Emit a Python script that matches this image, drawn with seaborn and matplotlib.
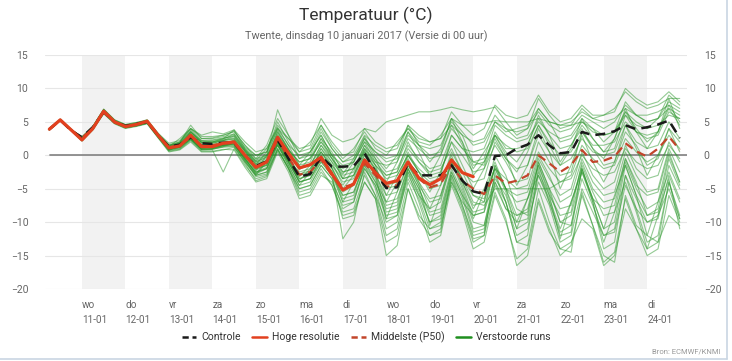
import matplotlib
matplotlib.use("Agg")
import matplotlib.pyplot as plt
from matplotlib.lines import Line2D
import pandas as pd
import seaborn as sns

# ---- data (6-hourly from 10-01 06 UTC) ----
start = "2017-01-10 06:00"

controle = [3.9, 5.3, 3.7,
            2.7, 4.2, 6.5, 5.0,   4.4, 4.7, 5.0, 3.0,   1.3, 1.6, 2.7, 1.8,
            1.7, 1.9, 1.9, 0.0,   -1.6, -0.9, 2.3, -0.5,   -3.2, -2.8, -0.2, -1.7,
            -1.7, -1.6, 0.3, -2.5,   -4.9, -4.8, -1.2, -3.0,   -3.0, -3.0, -1.5, -3.8,
            -5.4, -5.8, -0.1, 0.0,   1.0, 1.6, 3.0, 1.5,   0.3, 0.5, 3.5, 3.0,
            3.2, 3.6, 4.5, 3.9,   4.2, 4.6, 5.2, 2.6]

hoge_resolutie = [3.9, 5.3, 3.8,
                  2.3, 4.0, 6.6, 5.0,   4.3, 4.6, 5.1, 3.0,   1.1, 1.4, 3.0, 1.3,
                  1.3, 1.8, 2.0, 0.0,   -1.8, -1.0, 2.7, 0.3,   -1.9, -1.4, -0.3, -2.8,
                  -5.2, -4.3, -0.7, -2.6,   -4.2, -3.8, -1.0, -3.4,   -4.4, -3.5, -0.7, -2.6,
                  -3.2]

middelste = [3.9, 5.2, 3.8,
             2.6, 4.1, 6.4, 4.9,   4.3, 4.6, 5.0, 3.0,   1.2, 1.5, 2.7, 1.5,
             1.5, 1.8, 1.8, 0.0,   -1.7, -1.0, 2.3, -0.3,   -2.9, -2.5, -0.6, -3.0,
             -4.8, -4.3, -1.2, -3.0,   -4.7, -4.5, -1.3, -3.5,   -4.8, -4.3, -1.5, -3.8,
             -5.0, -5.8, -3.0, -4.2,   -3.8, -3.0, 0.0, -1.2,   -2.5, -1.5, 0.8, -1.0,
             -0.8, -0.2, 1.8, 0.6,   -0.2, 1.0, 2.8, 0.8]

verstoorde_runs = [
    [3.9, 5.4, 3.9, 2.6, 4.3, 6.8, 5.2, 4.5, 4.8, 5.3, 3.3, 1.6, 2.0, 4.0, 2.8, 2.8, 3.0, 3.5, 1.5,
     0.0, 0.5, 4.5, 2.5, 1.0, 1.5, 5.5, 3.0, 2.0, 2.5, 4.0, 3.5, 5.0, 5.5, 6.0, 6.5, 6.5, 6.8, 7.2, 6.8,
     6.5, 6.8, 7.2, 5.0, 3.0, 4.0, 8.5, 6.0, 4.0, 4.5, 7.0, 5.5, 6.0, 7.0, 9.5, 8.0, 7.0, 7.5, 8.5, 8.5],
    [3.8, 5.2, 3.7, 2.2, 3.8, 6.3, 4.8, 4.1, 4.4, 4.8, 2.7, 0.8, 1.2, 3.5, 2.0, 2.0, 2.5, 3.8, 1.0,
     -0.8, 0.0, 6.8, 3.0, -0.5, 0.5, 4.0, 1.0, -1.0, 0.0, 3.0, 1.5, 0.5, 1.0, 4.5, 3.0, 2.0, 2.5, 6.5, 4.5,
     3.0, 4.0, 7.5, 6.0, 5.5, 6.0, 9.0, 6.5, 5.0, 5.5, 7.5, 6.0, 6.0, 6.5, 10.0, 8.5, 7.5, 8.0, 9.5, 8.0],
    [3.9, 5.3, 3.8, 2.5, 4.0, 6.6, 5.1, 4.4, 4.7, 5.1, 3.1, 1.2, 1.6, 3.2, 1.6, 1.8, 2.2, 2.5, 0.5,
     -1.2, -0.5, 3.5, 0.8, -1.0, -0.5, 2.0, 0.0, -2.0, -1.0, 2.0, 0.5, -1.0, -0.5, 3.0, 1.5, 0.0, 0.5, 5.5, 3.5,
     1.5, 2.0, 5.0, 4.0, 3.5, 4.0, 6.5, 4.5, 3.5, 4.0, 6.0, 5.0, 4.0, 5.0, 7.5, 6.0, 5.0, 5.5, 8.0, 7.0],
    [3.9, 5.3, 3.8, 2.8, 4.3, 6.9, 5.3, 4.6, 4.9, 5.2, 3.2, 1.5, 1.8, 3.5, 2.2, 2.3, 2.6, 2.8, 0.8,
     -1.0, -0.2, 3.0, 0.5, -2.0, -1.5, 1.0, -1.0, -3.0, -2.5, 1.5, -0.5, -2.5, -2.0, 1.5, -0.5, -2.0, -1.5, 3.0, 1.0,
     -1.0, -0.5, 4.5, 3.0, 2.0, 2.5, 5.0, 3.5, 2.5, 3.0, 5.5, 4.0, 3.0, 3.5, 6.0, 4.5, 4.0, 4.5, 6.0, 5.5],
    [3.8, 5.2, 3.7, 2.2, 3.9, 6.4, 4.9, 4.2, 4.5, 4.9, 2.8, 0.9, 1.2, 2.5, 1.0, 1.0, 1.5, 2.0, -0.5,
     -2.5, -1.8, 2.0, -0.5, -3.5, -3.0, 0.0, -2.0, -5.5, -4.5, -0.5, -3.0, -6.0, -5.5, -1.5, -4.0, -6.5, -6.0, -0.5, -3.5,
     -6.0, -6.5, -2.0, -3.5, -5.0, -4.5, 0.5, -2.0, -4.0, -3.0, 1.5, -0.5, -2.0, -1.5, 2.5, 0.5, -1.0, 0.0, 3.0, 1.0],
    [3.9, 5.4, 3.9, 2.4, 4.1, 6.7, 5.1, 4.3, 4.6, 5.0, 2.9, 1.0, 1.3, 2.8, 1.2, 1.2, 1.5, 1.7, -0.8,
     -3.0, -2.5, 1.5, -1.5, -4.5, -4.0, -1.0, -3.0, -7.0, -6.5, -2.0, -4.5, -9.0, -8.5, -3.0, -6.0, -10.0, -9.0, -2.5, -6.0,
     -11.0, -10.5, -4.0, -7.0, -12.0, -11.0, -3.0, -7.0, -11.5, -10.5, -3.5, -7.5, -12.0, -11.0, -3.0, -6.5, -10.0, -9.0, -1.5, -5.0],
    [3.8, 5.3, 3.8, 2.3, 4.0, 6.5, 5.0, 4.3, 4.5, 4.9, 2.8, 0.7, 1.0, 2.3, 0.8, 0.8, -2.5, 1.0, -1.5,
     -3.5, -3.0, 1.0, -2.0, -5.5, -5.0, -2.0, -4.5, -8.5, -8.0, -3.0, -6.0, -12.0, -11.0, -4.0, -8.0, -13.0, -12.0, -4.5, -8.5,
     -14.0, -13.0, -6.0, -10.0, -15.5, -14.0, -6.5, -11.0, -15.0, -13.5, -6.0, -10.5, -16.0, -14.5, -6.5, -11.0, -15.0, -14.0, -6.0, -10.0],
    [4.0, 5.4, 3.9, 2.7, 4.2, 6.8, 5.2, 4.5, 4.7, 5.1, 3.0, 1.3, 1.6, 3.0, 1.6, 1.6, 1.9, 2.2, 0.0,
     -2.0, -1.5, 2.5, -0.5, -4.0, -3.5, -0.5, -2.5, -12.5, -10.0, -2.5, -6.0, -10.0, -9.0, -2.0, -6.0, -8.0, -7.0, -1.0, -4.5,
     -9.0, -8.5, -1.5, -5.0, -7.0, -6.5, -0.5, -3.5, -6.0, -5.0, 0.5, -3.0, -5.0, -4.0, 1.5, -2.0, -3.5, -3.0, 2.0, -1.0],
    [3.9, 5.3, 3.8, 2.6, 4.2, 6.7, 5.1, 4.4, 4.7, 5.1, 3.1, 1.4, 1.7, 3.5, 2.0, 2.2, 2.5, 3.0, 1.0,
     -0.5, 0.0, 4.0, 1.5, 0.0, 0.5, 3.0, 0.0, -1.5, -1.0, 2.0, -1.0, -3.0, -2.5, 2.0, -1.0, -2.5, -2.0, 1.0, -2.5,
     -6.0, -7.0, 0.0, -3.0, -8.0, -9.0, -1.0, -5.0, -10.0, -10.5, -2.0, -6.5, -11.0, -10.0, -1.5, -6.0, -9.0, -8.0, -0.5, -4.5],
    [3.9, 5.3, 3.8, 2.4, 4.0, 6.5, 4.9, 4.2, 4.5, 4.9, 2.9, 1.0, 1.3, 2.6, 1.2, 1.4, 1.6, 1.8, -0.3,
     -2.2, -1.5, 2.2, -0.8, -2.5, -2.0, 0.5, -1.5, -4.0, -3.5, 0.5, -2.0, -4.5, -4.0, 0.5, -2.5, -5.0, -4.5, 0.5, -2.5,
     -4.0, -3.5, 2.0, -0.5, -2.0, -1.5, 3.0, 0.5, -1.5, -0.5, 2.5, 0.5, 0.0, 0.5, 4.5, 2.0, 1.0, 1.5, 5.0, 2.5],
    [3.8, 5.2, 3.7, 2.1, 3.8, 6.2, 4.7, 4.0, 4.3, 4.7, 2.6, 0.5, 0.8, 2.0, 0.5, 0.5, 0.8, 1.2, -1.0,
     -3.0, -2.5, 1.0, -2.0, -5.0, -4.5, -1.5, -3.5, -8.0, -7.0, -1.5, -5.0, -11.0, -10.0, -2.5, -7.0, -12.0, -11.5, -3.0, -7.5,
     -12.5, -12.0, -2.5, -7.0, -13.0, -12.0, -2.0, -7.0, -12.0, -11.5, -2.0, -7.0, -14.0, -13.0, -3.0, -8.0, -13.0, -12.0, -4.0, -9.5],
    [3.9, 5.3, 3.8, 2.5, 4.1, 6.6, 5.0, 4.4, 4.6, 5.0, 3.0, 1.2, 1.5, 3.2, 1.8, 2.0, 2.3, 2.6, 0.7,
     -1.0, -0.3, 3.5, 1.0, -1.5, -1.0, 2.5, 0.5, -2.5, -2.0, 1.0, -1.0, -1.5, -1.0, 2.5, 1.0, -0.5, 0.0, 4.0, 2.0,
     -1.5, -1.0, 3.0, 1.5, 0.5, 1.0, 4.5, 2.0, 0.0, 0.5, 3.5, 1.5, 1.5, 2.0, 5.0, 3.5, 2.5, 3.0, 6.5, 5.5],
    [3.9, 5.3, 3.9, 2.5, 4.2, 6.7, 5.1, 4.4, 4.6, 5.0, 2.9, 1.0, 1.3, 2.5, 1.0, 1.3, 1.6, 1.5, -0.5,
     -2.8, -2.0, 1.5, -1.0, -3.5, -3.0, -0.5, -2.5, -6.5, -6.0, -1.0, -4.0, -8.0, -7.5, -2.0, -5.0, -9.0, -8.5, -2.5, -6.0,
     -8.5, -8.0, -1.5, -5.0, -9.0, -8.0, -1.0, -5.0, -8.0, -7.5, -1.5, -5.5, -9.0, -8.5, -1.0, -5.0, -8.0, -7.0, 0.0, -4.0],
    [3.9, 5.2, 3.8, 2.4, 4.0, 6.4, 5.0, 4.3, 4.6, 5.0, 3.0, 1.1, 1.5, 2.8, 1.4, 1.5, 1.8, 2.0, 0.2,
     -1.8, -1.2, 2.0, -0.2, -3.0, -2.5, 1.0, -1.5, -3.5, -3.0, 1.0, -1.5, -3.5, -3.0, 0.0, -2.5, -4.0, -3.5, -0.5, -3.5,
     -7.0, -7.5, -5.0, -5.0, -5.0, -5.0, -5.0, -5.0, -4.0, -3.5, 0.0, -2.0, -3.0, -2.5, 1.0, -1.0, -2.0, -1.5, 1.5, -0.5],
    [3.9, 5.3, 3.8, 2.5, 4.1, 6.6, 5.0, 4.3, 4.6, 5.0, 3.0, 1.1, 1.4, 2.6, 1.1, 1.2, 1.5, 1.6, -0.6,
     -2.5, -2.0, 1.8, -1.0, -4.0, -3.5, -1.0, -3.0, -6.0, -5.5, -1.5, -4.0, -7.0, -6.5, -2.0, -5.0, -8.5, -8.0, -2.0, -5.5,
     -10.0, -10.5, -3.0, -7.0, -13.0, -13.5, -5.0, -10.0, -14.0, -14.5, -5.5, -10.5, -15.0, -16.0, -6.0, -10.5, -12.0, -13.0, -4.0, -9.0],
    [3.9, 5.3, 3.8, 2.6, 4.2, 6.7, 5.1, 4.5, 4.8, 5.2, 3.1, 1.5, 1.9, 4.5, 2.5, 2.5, 2.8, 3.2, 1.2,
     0.0, 0.5, 5.0, 2.0, -0.5, 0.0, 3.5, 1.0, -1.0, -0.5, 2.5, 0.5, -0.5, 0.0, 3.5, 1.5, 1.0, 1.5, 5.0, 3.0,
     2.0, 2.5, 6.0, 4.0, 2.5, 3.0, 7.0, 5.0, 2.0, 2.5, 5.0, 3.5, 3.0, 3.5, 8.0, 6.0, 5.0, 5.5, 9.0, 7.5],
    [3.8, 5.2, 3.7, 2.3, 3.9, 6.3, 4.8, 4.1, 4.4, 4.8, 2.7, 0.6, 0.9, 2.2, 0.6, 0.6, 0.9, 0.8, -1.8,
     -4.0, -3.5, 0.5, -2.5, -6.5, -6.0, -3.0, -4.0, -7.5, -7.0, -2.0, -4.5, -9.5, -9.0, -3.5, -6.5, -11.0, -10.5, -4.0, -7.0,
     -9.0, -8.5, -3.5, -6.0, -11.0, -10.0, -4.0, -7.5, -13.0, -12.0, -5.0, -8.5, -12.0, -11.5, -4.5, -8.0, -10.0, -9.5, -3.0, -7.0],
    [3.9, 5.3, 3.8, 2.4, 4.1, 6.6, 5.0, 4.3, 4.6, 5.0, 3.0, 1.2, 1.5, 2.9, 1.5, 1.6, 1.9, 2.1, 0.3,
     -1.5, -1.0, 2.8, 0.0, -2.0, -1.5, 1.5, -0.5, -2.5, -2.0, 0.5, -1.5, -3.0, -2.5, 1.0, -1.0, -3.0, -2.5, 2.0, 0.0,
     -2.5, -2.0, 1.5, -1.0, -4.0, -3.5, 2.0, -1.0, -3.0, -2.5, 3.5, 1.0, -1.5, -1.0, 3.5, 1.5, -1.5, -0.5, 4.0, 2.0],
    [3.9, 5.3, 3.8, 2.5, 4.1, 6.6, 5.0, 4.3, 4.6, 5.0, 2.9, 0.9, 1.2, 2.4, 0.9, 1.0, 1.3, 1.4, -1.0,
     -3.2, -2.8, 0.8, -1.8, -5.0, -4.5, -1.5, -3.5, -9.5, -9.0, -4.0, -6.5, -13.0, -12.0, -5.0, -9.0, -11.0, -10.0, -3.5, -7.5,
     -12.0, -11.5, -4.0, -8.0, -10.0, -9.5, -2.5, -6.0, -9.0, -8.5, -1.0, -5.0, -7.0, -6.5, -0.5, -4.0, -9.0, -8.5, -3.5, -11.0],
    [3.9, 5.3, 3.8, 2.6, 4.1, 6.6, 5.0, 4.3, 4.6, 5.1, 3.1, 1.3, 1.6, 3.3, 1.9, 1.9, 2.2, 2.4, 0.6,
     -1.3, -0.8, 3.2, 0.8, -1.0, -0.5, 2.0, -0.5, -3.5, -3.0, 0.0, -2.0, -5.0, -4.5, 0.0, -2.0, -3.5, -3.0, 3.0, 1.0,
     0.5, 1.0, 5.0, 3.5, 4.0, 4.5, 7.0, 5.0, 4.5, 5.0, 6.5, 5.5, 5.0, 5.5, 7.0, 6.0, 6.0, 6.5, 7.5, 6.5],
    [3.8, 5.2, 3.8, 2.3, 4.0, 6.5, 5.0, 4.2, 4.5, 4.9, 2.8, 0.8, 1.1, 2.4, 0.9, 0.9, 1.2, 1.3, -1.2,
     -3.8, -3.2, 0.8, -2.0, -6.0, -5.5, -2.5, -4.5, -9.0, -8.5, -4.0, -6.5, -15.0, -13.5, -5.0, -9.5, -12.0, -11.0, -4.0, -8.0,
     -13.0, -12.0, -5.5, -9.5, -16.5, -15.0, -7.0, -11.5, -14.0, -13.0, -9.5, -11.0, -16.5, -15.0, -8.0, -11.0, -14.0, -13.0, -9.0, -10.5],
    [3.9, 5.3, 3.8, 2.5, 4.1, 6.5, 5.0, 4.3, 4.6, 5.0, 3.0, 1.2, 1.5, 2.8, 1.3, 1.4, 1.7, 1.9, -0.2,
     -2.0, -1.4, 2.5, -0.3, -2.8, -2.3, 0.5, -1.8, -5.0, -4.5, -0.5, -3.0, -7.5, -7.0, -1.5, -4.5, -7.0, -6.5, -1.0, -4.0,
     -7.5, -7.0, -2.0, -5.0, -6.0, -5.5, 0.0, -3.0, -7.0, -6.0, -0.5, -4.0, -6.0, -5.5, 0.5, -3.0, -5.5, -5.0, 1.0, -2.5],
    [3.9, 5.3, 3.8, 2.7, 4.3, 6.9, 5.3, 4.6, 4.9, 5.3, 3.3, 1.8, 2.2, 4.0, 3.0, 3.5, 3.2, 3.8, 2.0,
     0.5, 1.0, 4.0, 2.5, 0.5, 1.0, 4.5, 2.0, 0.0, 0.5, 4.0, 2.0, 1.0, 1.5, 4.0, 2.5, 2.0, 2.5, 4.5, 3.0,
     -1.0, -1.5, 3.5, 1.0, 1.0, 1.5, 5.5, 3.0, 1.0, 1.5, 4.5, 2.5, 0.5, 1.0, 6.0, 3.5, 3.0, 3.5, 7.5, 5.0],
    [3.9, 5.3, 3.8, 2.4, 4.0, 6.5, 4.9, 4.2, 4.5, 4.9, 2.9, 1.0, 1.3, 2.6, 1.1, 1.2, 1.5, 1.6, -0.6,
     -2.6, -2.0, 1.8, -1.0, -4.0, -3.5, -0.5, -2.5, -6.0, -5.5, -1.0, -3.5, -8.5, -8.0, -2.5, -5.5, -10.0, -9.5, -3.0, -6.5,
     -11.5, -11.0, -4.5, -8.0, -9.0, -8.5, -1.5, -5.5, -10.0, -9.0, -2.5, -6.5, -8.0, -7.5, -0.5, -4.5, -6.0, -5.5, 0.5, -4.0],
    [3.9, 5.3, 3.8, 2.5, 4.1, 6.6, 5.0, 4.4, 4.7, 5.1, 3.1, 1.3, 2.5, 4.0, 2.5, 2.6, 3.0, 3.6, 1.5,
     -0.5, 1.5, 5.5, 3.0, 0.5, 2.0, 4.5, 1.5, -0.5, 1.0, 3.5, 1.0, 0.0, 2.0, 4.0, 2.0, 1.5, 3.0, 5.5, 4.5,
     4.5, 4.8, 5.2, 5.0, 5.0, 5.0, 5.5, 5.0, 4.5, 4.5, 5.0, 4.0, 2.0, 3.5, 6.5, 5.0, 4.0, 5.5, 7.0, 6.0],
    [3.8, 5.3, 3.8, 2.4, 4.2, 6.5, 5.0, 4.2, 4.6, 5.0, 2.8, 0.9, 1.8, 3.0, 1.2, 1.1, 1.5, 2.3, 0.0,
     -2.3, 0.0, 2.0, -0.8, -3.2, -1.5, 1.5, -1.0, -4.5, -2.0, 1.5, -1.5, -6.0, -3.0, 0.0, -2.5, -5.5, -2.5, 2.0, -1.5,
     -5.0, -2.0, 3.0, 0.0, -4.5, -1.5, 4.0, 0.5, -5.0, -1.5, 3.0, -1.0, -4.0, -1.0, 4.5, 1.0, -3.0, 0.0, 4.0, 0.5],
    [3.9, 5.3, 3.8, 2.3, 4.0, 6.4, 4.9, 4.2, 4.4, 4.8, 2.8, 0.8, 1.5, 2.5, 0.8, 0.9, 1.3, 1.8, -0.8,
     -3.0, -1.0, 1.5, -1.5, -4.5, -2.5, 0.0, -2.5, -7.0, -4.0, 0.0, -3.0, -9.5, -5.5, -1.0, -4.5, -10.5, -6.0, -1.0, -5.0,
     -9.5, -5.5, -2.0, -5.5, -11.0, -6.5, -1.5, -6.0, -12.5, -7.0, -2.0, -6.5, -11.0, -6.0, -1.5, -6.0, -12.0, -7.0, -2.5, -6.5],
    [3.9, 5.3, 3.8, 2.6, 4.3, 6.8, 5.1, 4.5, 4.7, 5.1, 3.0, 1.4, 2.0, 3.8, 2.2, 2.0, 2.4, 3.2, 0.8,
     -0.8, 1.0, 4.2, 1.5, -1.5, 0.5, 3.0, 0.0, -3.5, -1.0, 2.5, -0.5, -4.0, -1.0, 3.5, 0.5, -3.0, 0.0, 4.5, 1.5,
     -2.0, 0.5, 3.0, 0.5, -1.0, 1.5, 6.0, 3.0, -1.0, 1.5, 4.0, 1.0, -0.5, 2.5, 7.0, 3.5, 1.0, 3.5, 8.5, 4.0],
    [3.8, 5.2, 3.7, 2.2, 3.9, 6.3, 4.8, 4.1, 4.4, 4.8, 2.8, 0.8, 1.4, 2.6, 0.9, 1.0, 1.4, 1.9, -0.4,
     -2.8, -0.8, 1.6, -1.2, -3.8, -2.0, 0.5, -2.0, -5.0, -3.0, 0.8, -2.5, -7.0, -4.0, -0.5, -4.0, -8.0, -4.5, 0.0, -4.0,
     -8.0, -5.0, -1.0, -5.0, -10.0, -6.5, -3.0, -6.5, -11.0, -7.0, -2.5, -7.0, -13.0, -8.5, -4.0, -8.5, -14.0, -9.0, -5.0, -9.5],
    [3.9, 5.3, 3.8, 2.5, 4.1, 6.6, 5.1, 4.4, 4.7, 5.1, 3.0, 1.2, 1.9, 3.6, 1.9, 1.8, 2.2, 2.9, 0.6,
     -1.4, 0.5, 3.8, 0.9, -2.2, -0.3, 2.5, -0.5, -2.8, -0.5, 2.8, 0.0, -2.0, 0.0, 4.5, 1.5, -1.0, 1.0, 5.5, 2.0,
     -3.0, -1.0, 2.5, -0.5, -2.5, 0.5, 4.5, 1.5, -1.5, 1.0, 5.5, 2.5, 0.5, 2.5, 6.5, 4.0, 2.0, 3.5, 7.0, 4.5],
]

dagen = ["wo", "do", "vr", "za", "zo", "ma", "di", "wo", "do", "vr", "za", "zo", "ma", "di"]
datums = ["11-01", "12-01", "13-01", "14-01", "15-01", "16-01", "17-01",
          "18-01", "19-01", "20-01", "21-01", "22-01", "23-01", "24-01"]

# ---- build frames ----
tijd = pd.date_range(start, periods=len(controle), freq="6h")

rows = []
for i, run in enumerate(verstoorde_runs):
    for t, v in zip(tijd, run):
        rows.append({"tijd": t, "temp": v, "run": i})
df_runs = pd.DataFrame(rows)
df_ctrl = pd.DataFrame({"tijd": tijd, "temp": controle})
df_p50 = pd.DataFrame({"tijd": tijd, "temp": middelste})
df_hres = pd.DataFrame({"tijd": tijd[:len(hoge_resolutie)], "temp": hoge_resolutie})

sns.set_theme(style="white")
plt.rcParams["font.family"] = ["Roboto", "DejaVu Sans"]

fig = plt.figure(figsize=(7.32, 3.61), dpi=100)
ax = fig.add_axes([45 / 732, 1 - 289 / 361, 642 / 732, 234 / 361])

groen = "#2a962a"
rood = "#e2401f"
p50_kleur = "#c2452b"

# alternate day bands
ticks = pd.date_range("2017-01-11", periods=len(dagen), freq="D")
for d in ticks[::2]:
    ax.axvspan(d, d + pd.Timedelta(days=1), color="#f2f2f2", zorder=0, lw=0)

for yv in range(-20, 16, 5):
    ax.axhline(yv, color="#e6e6e6", lw=0.8, zorder=0.5)
ax.axhline(0, color="#8a8a8a", lw=1.3, zorder=0.6, xmin=(5 / 642), xmax=1)

sns.lineplot(data=df_runs, x="tijd", y="temp", units="run", estimator=None,
             color=groen, alpha=0.5, lw=0.8, ax=ax, legend=False, zorder=2)
sns.lineplot(data=df_p50, x="tijd", y="temp", color=p50_kleur, lw=1.6,
             ax=ax, zorder=3).lines[-1].set_dashes([4, 2.5])
sns.lineplot(data=df_ctrl, x="tijd", y="temp", color="#1a1a1a", lw=1.8,
             ax=ax, zorder=4).lines[-1].set_dashes([4, 2.5])
sns.lineplot(data=df_hres, x="tijd", y="temp", color=rood, lw=2.3,
             ax=ax, zorder=5)

ax.set_xlim(pd.Timestamp("2017-01-10 03:36"), pd.Timestamp("2017-01-24 22:00"))
ax.set_ylim(-20, 15)
ax.set_yticks(range(-20, 16, 5))
ax.set_xticks(ticks)
ax.set_xticklabels([f"{a}\n{b}" for a, b in zip(dagen, datums)],
                   ha="left", fontsize=7.2, color="#666666", linespacing=1.6)
ax.tick_params(axis="x", length=5, width=0.8, color="#d8dde6", pad=3)
ax.tick_params(axis="y", length=0, labelsize=7.5, labelcolor="#666666", pad=12,
               labelright=True, right=False)
ax.set_xlabel("")
ax.set_ylabel("")
for s in ax.spines.values():
    s.set_visible(False)
ax.grid(False)

fig.text(0.5, 1 - 15 / 361, "Temperatuur (°C)", ha="center", va="center",
         fontsize=12.5, color="#333333")
fig.text(0.5, 1 - 36 / 361, "Twente, dinsdag 10 januari 2017 (Versie di 00 uur)",
         ha="center", va="center", fontsize=7.8, color="#666666")

handles = [
    Line2D([], [], color="#1a1a1a", lw=1.8, dashes=[2.5, 1.5]),
    Line2D([], [], color=rood, lw=1.8),
    Line2D([], [], color=p50_kleur, lw=1.8, dashes=[2.5, 1.5]),
    Line2D([], [], color="#1f8f1f", lw=1.8),
]
labels = ["Controle", "Hoge resolutie", "Middelste (P50)", "Verstoorde runs"]
fig.legend(handles, labels, loc="center", bbox_to_anchor=(0.5, 1 - 337 / 361),
           ncol=4, frameon=False, fontsize=7.5, handlelength=1.4,
           handletextpad=0.5, columnspacing=1.1, labelcolor="#333333")

fig.text(720 / 732, 1 - 352 / 361, "Bron: ECMWF/KNMI", ha="right", va="center",
         fontsize=5.5, color="#999999")

# screenshot border on the right and bottom
fig.add_artist(Line2D([727 / 732, 727 / 732], [2 / 361, 1], color="#c9d6e3", lw=1.2))
fig.add_artist(Line2D([0, 727 / 732], [2 / 361, 2 / 361], color="#c9d6e3", lw=1.2))

fig.savefig("out.png", dpi=100)
